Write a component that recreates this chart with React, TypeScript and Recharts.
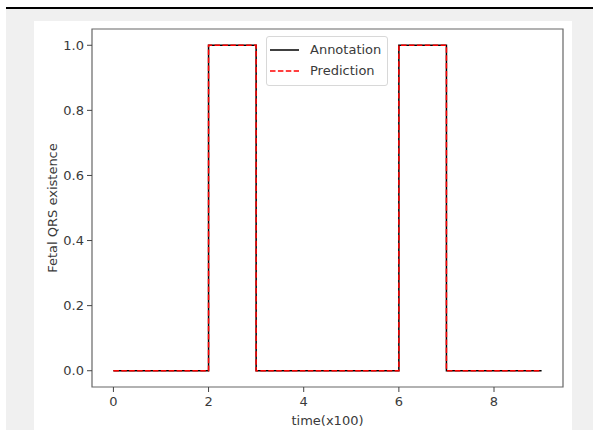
import React from 'react';
import { LineChart, Line, XAxis, YAxis, Legend, ReferenceArea } from 'recharts';

// time steps (x100) and the per-step QRS flags
const timeSteps = [0, 1, 2, 3, 4, 5, 6, 7, 8, 9];
const annotation = [0, 0, 1, 0, 0, 0, 1, 0, 0, 0];
const prediction = [0, 0, 1, 0, 0, 0, 1, 0, 0, 0];
const xTicks = [0, 2, 4, 6, 8];
const yTicks = [0, 0.2, 0.4, 0.6, 0.8, 1.0];

const FONT = '"DejaVu Sans", sans-serif';
const TEXT = '#3a3a3a';

const chartData = timeSteps.map((t, i) => ({
  t,
  annotation: annotation[i],
  prediction: prediction[i],
}));

const LegendBox = () => (
  <div style={{
    boxSizing: 'border-box',
    width: 122,
    height: 50,
    border: '1px solid #d8d8d8',
    borderRadius: 3,
    background: 'rgba(255,255,255,0.85)',
    fontFamily: FONT,
    fontSize: 13,
    color: TEXT,
    paddingTop: 2,
  }}>
    {[
      { name: 'Annotation', color: '#000', dash: undefined },
      { name: 'Prediction', color: 'red', dash: '5.5 2.4' },
    ].map(item => (
      <div key={item.name} style={{ display: 'flex', alignItems: 'center', height: 21 }}>
        <svg width={40} height={10} style={{ marginLeft: 3 }}>
          <line x1={0} y1={5} x2={29} y2={5} stroke={item.color} strokeWidth={1.5} strokeDasharray={item.dash} />
        </svg>
        <span>{item.name}</span>
      </div>
    ))}
  </div>
);

export default function App() {
  return (
    <div style={{ position: 'absolute', left: 0, top: 0, width: 593, height: 430, background: '#fff', overflow: 'hidden' }}>
      <div style={{ position: 'absolute', left: 6, top: 7, width: 587, height: 2, background: '#000' }} />
      <div style={{ position: 'absolute', left: 6, top: 9, width: 587, height: 421, background: '#f0f0f0' }} />
      <div style={{ position: 'absolute', left: 34, top: 21, width: 538, height: 409, background: '#fff' }} />
      <div style={{ position: 'absolute', left: 0, top: 0 }}>
        <LineChart
          width={593}
          height={430}
          data={chartData}
          margin={{ top: 29, right: 30, left: 30, bottom: 0 }}
        >
          <XAxis
            dataKey="t"
            type="number"
            domain={[-0.45, 9.45]}
            ticks={xTicks}
            allowDataOverflow
            height={43}
            axisLine={false}
            tickSize={5}
            tickMargin={5}
            tickLine={{ stroke: '#444' }}
            tick={{ fill: TEXT, fontSize: 13, fontFamily: FONT }}
            label={{ value: 'time(x100)', position: 'insideBottom', offset: 5, style: { fill: TEXT, fontSize: 13, fontFamily: FONT } }}
          />
          <YAxis
            type="number"
            domain={[-0.05, 1.05]}
            ticks={yTicks}
            allowDataOverflow
            width={62}
            axisLine={false}
            tickSize={5}
            tickMargin={3}
            tickLine={{ stroke: '#444' }}
            tickFormatter={(v: number) => v.toFixed(1)}
            tick={{ fill: TEXT, fontSize: 13, fontFamily: FONT }}
            label={{ value: 'Fetal QRS existence', angle: -90, position: 'insideLeft', offset: 22, style: { textAnchor: 'middle', fill: TEXT, fontSize: 13, fontFamily: FONT } }}
          />
          <ReferenceArea x1={-0.45} x2={9.45} y1={-0.05} y2={1.05} fill="none" stroke="#666" strokeWidth={1.2} ifOverflow="visible" />
          <Line type="stepAfter" dataKey="annotation" stroke="#000" strokeWidth={1.5} dot={false} isAnimationActive={false} />
          <Line type="stepAfter" dataKey="prediction" stroke="red" strokeWidth={1.5} strokeDasharray="5.5 2.4" dot={false} isAnimationActive={false} />
          <Legend
            layout="vertical"
            align="center"
            verticalAlign="middle"
            content={<LegendBox />}
            wrapperStyle={{ left: 266, top: 36, width: 122, height: 50 }}
          />
        </LineChart>
      </div>
    </div>
  );
}
